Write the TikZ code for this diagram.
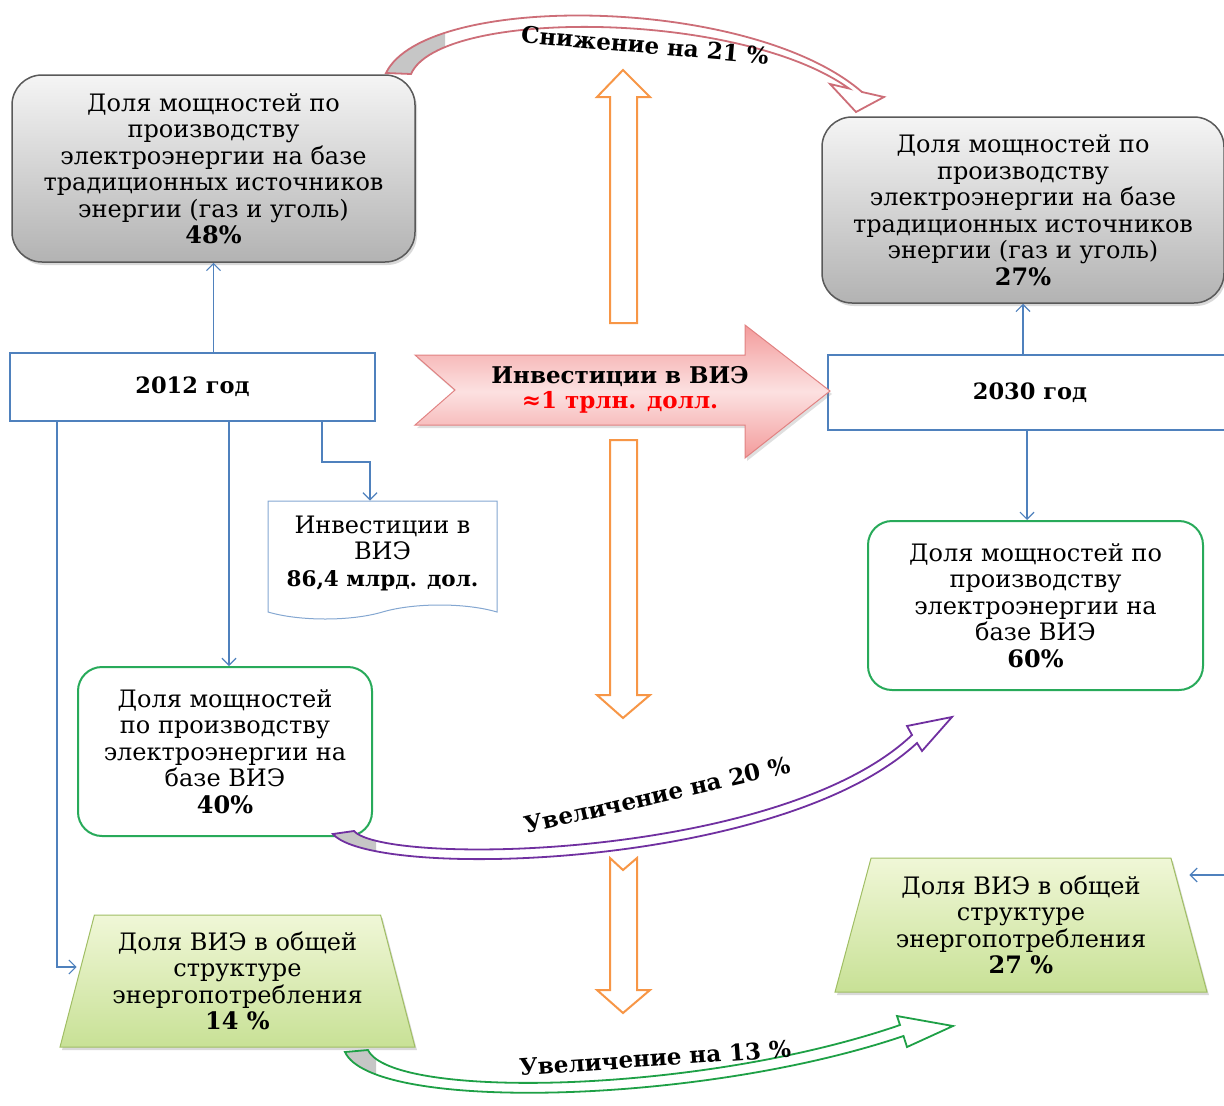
\documentclass[tikz,border=0pt]{standalone}
\usepackage{fontspec}
\setmainfont{DejaVu Serif}
\usetikzlibrary{shapes.geometric,shapes.symbols,shadows,arrows.meta}
\definecolor{boxblue}{RGB}{79,129,189}
\definecolor{rengreen}{RGB}{40,170,90}
\definecolor{traplight}{RGB}{240,247,215}
\definecolor{trapgreen}{RGB}{200,225,150}
\definecolor{trapedge}{RGB}{160,190,100}
\definecolor{arrowor}{RGB}{247,150,70}
\definecolor{investpink}{RGB}{243,155,155}
\definecolor{investlight}{RGB}{252,225,225}
\definecolor{investedge}{RGB}{225,130,130}
\definecolor{dropred}{RGB}{205,110,120}
\definecolor{riseviolet}{RGB}{112,48,160}
\definecolor{risegreen}{RGB}{30,160,70}
\begin{document}
\begin{tikzpicture}[x=1pt,y=-1pt,
  txt/.style={font=\fontsize{24}{26.5}\selectfont, align=center, inner sep=0pt},
  greybox/.style={txt, draw=gray!70!black, line width=1.5pt, rounded corners=30pt, top color=gray!8, bottom color=gray!60, drop shadow={opacity=0.3, shadow xshift=2pt, shadow yshift=-3pt}},
  yearbox/.style={txt, draw=boxblue, line width=2pt, fill=white, font=\fontsize{22.5}{26}\selectfont\bfseries},
  renbox/.style={txt, draw=rengreen, line width=2pt, rounded corners=24pt, fill=white},
  sharebox/.style={txt, trapezium, trapezium left angle=73, trapezium right angle=73, trapezium stretches=true, draw=trapedge, line width=1pt, top color=traplight, bottom color=trapgreen, drop shadow={opacity=0.3, shadow xshift=2pt, shadow yshift=-3pt}},
  docbox/.style={txt, tape, tape bend top=none, tape bend height=14pt, draw=boxblue!70, line width=1pt, fill=white},
  link/.style={draw=boxblue, line width=1.2pt, -{Straight Barb[length=7pt,width=14pt]}},
  hollow/.style={draw=arrowor, line width=2pt, fill=white, line join=miter},
  bandlabel/.style={font=\fontsize{23}{26}\selectfont\bfseries, inner sep=0pt}
]
\useasboundingbox (0,0) rectangle (1224,1106);

% boxes
\node[greybox, minimum width=403pt, minimum height=187pt] (trad12) at (213.5,168.5) {Доля мощностей по\\производству\\электроэнергии на базе\\традиционных источников\\энергии (газ и уголь)\\\textbf{48\%}};
\node[greybox, minimum width=402pt, minimum height=186pt] (trad30) at (1023,210) {Доля мощностей по\\производству\\электроэнергии на базе\\традиционных источников\\энергии (газ и уголь)\\\textbf{27\%}};
\node[yearbox, minimum width=365pt, minimum height=68pt] (y2012) at (192.5,387) {2012 год};
\node[yearbox, minimum width=404pt, minimum height=75pt] (y2030) at (1030,392.5) {2030 год};
\node[docbox, minimum width=229pt, minimum height=118pt] (inv12) at (382.5,553) {Инвестиции в\\ВИЭ\\\fontsize{21.5}{26.5}\selectfont\textbf{86,4 млрд. дол.}};
\node[renbox, minimum width=294pt, minimum height=169pt] (ren12) at (225,751.5) {Доля мощностей\\по производству\\электроэнергии на\\базе ВИЭ\\\textbf{40\%}};
\node[renbox, minimum width=335pt, minimum height=169pt] (ren30) at (1035.5,605.5) {Доля мощностей по\\производству\\электроэнергии на\\базе ВИЭ\\\textbf{60\%}};
\node[sharebox, minimum width=355pt, minimum height=132pt] (share12) at (237.5,981) {Доля ВИЭ в общей\\структуре\\энергопотребления\\\textbf{14 \%}};
\node[sharebox, minimum width=372pt, minimum height=134pt] (share30) at (1021,925) {Доля ВИЭ в общей\\структуре\\энергопотребления\\\textbf{27 \%}};

% big investment arrow
\path[draw=investedge, line width=1pt, top color=investpink, bottom color=investpink, middle color=investlight, drop shadow={opacity=0.25, shadow xshift=2pt, shadow yshift=-3pt}]
  (415,355) -- (745,355) -- (745,325) -- (830,391) -- (745,458) -- (745,425) -- (415,425) -- (455,390) -- cycle;
\node[txt, font=\fontsize{23}{25}\selectfont\bfseries] (invest) at (620,390) {Инвестиции в ВИЭ\\\textcolor{red}{≈1 трлн. долл.}};

% orange arrows
\draw[hollow] (610,323) -- (610,97) -- (597,97) -- (623,70) -- (650,97) -- (637,97) -- (637,323) -- cycle;
\draw[hollow] (610,440) -- (610,695) -- (597,695) -- (623,718) -- (650,695) -- (637,695) -- (637,440) -- cycle;
\draw[hollow] (610,858) -- (623,870) -- (637,858) -- (637,990) -- (650,990) -- (623,1013) -- (597,990) -- (610,990) -- cycle;

% connectors
\draw[link] (y2012.north -| trad12.south) -- (trad12.south);
\draw[link] (229,0 |- y2012.south) -- (229,0 |- ren12.north);
\draw[link] (322,0 |- y2012.south) |- (370,462) -- (370,0 |- inv12.north);
\draw[link] (57,0 |- y2012.south) |- ([yshift=14pt]share12.west);
\draw[link] (y2030.north -| trad30.south) -- (trad30.south);
\draw[link] (1027,0 |- y2030.south) -- (1027,0 |- ren30.north);
\coordinate (edgeR) at (1232,875);
\draw[link] (edgeR) -- ([xshift=18pt]share30.top right corner |- edgeR);

% curved arrows
\path[save path=\dropcurve] (386,73) .. controls (425,-8) and (750,-5) .. (862,92) -- (884,97) -- (856,112) -- (830,84) -- (849,88.5) .. controls (740,10) and (440,8) .. (411,74) -- cycle;
\path[save path=\risecurveA] (333,834) .. controls (372,880) and (780,870) .. (917,743) -- (922,751) -- (952,717) -- (907,726) -- (912,735) .. controls (780,860) and (385,866) .. (354,831) -- cycle;
\path[save path=\risecurveB] (345,1052) .. controls (372,1112) and (700,1105) .. (903.5,1036) -- (907,1047) -- (953,1026) -- (897,1016) -- (900,1025) .. controls (700,1094) and (392,1100) .. (368,1050) -- cycle;
\path[fill=white, use path=\dropcurve];
\path[fill=white, use path=\risecurveA];
\path[fill=white, use path=\risecurveB];
\begin{scope}
  \clip (370,0) rectangle (445,110);
  \path[fill=gray!45, use path=\dropcurve];
\end{scope}
\begin{scope}
  \clip (300,800) rectangle (376,900);
  \path[fill=gray!45, use path=\risecurveA];
\end{scope}
\begin{scope}
  \clip (300,1030) rectangle (376,1106);
  \path[fill=gray!45, use path=\risecurveB];
\end{scope}
\path[draw=dropred, line width=1.8pt, line join=miter, use path=\dropcurve];
\path[draw=riseviolet, line width=1.8pt, line join=miter, use path=\risecurveA];
\path[draw=risegreen, line width=1.8pt, line join=miter, use path=\risecurveB];
\node[bandlabel, rotate=-5] (dropnote) at (645,45) {Снижение на 21 \%};
\node[bandlabel, rotate=13] (risenoteA) at (657,795) {Увеличение на 20 \%};
\node[bandlabel, rotate=4] (risenoteB) at (655,1058) {Увеличение на 13 \%};
\end{tikzpicture}
\end{document}
